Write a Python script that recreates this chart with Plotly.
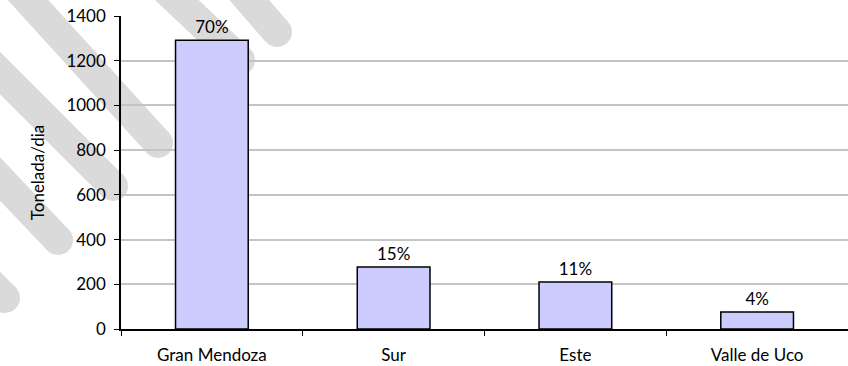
import plotly.graph_objects as go

# Residuos generados por región (tonelada/día)
regiones = ["Gran Mendoza", "Sur", "Este", "Valle de Uco"]
toneladas = [1292, 277, 210, 76]
y_ticks = [0, 200, 400, 600, 800, 1000, 1200, 1400]

total = sum(toneladas)
porcentajes = [f"{round(v / total * 100)}%" for v in toneladas]

W, H = 848, 366
ML, MR, MT, MB = 121, 0, 16, 37
PW, PH = W - ML - MR, H - MT - MB
FONT = "Lato"
FS = 17


def px_to_paper(x, y):
    return (x - ML) / PW, 1 - (y - MT) / PH


# Diagonal grey bands in the background: (cap centre x, cap centre y, slope dy/dx)
band_caps = [(277, 32, 1.15), (240, 60, 0.95), (158, 143, 1.1),
             (113, 186, 1.0), (58, 240, 1.05), (5, 298, 1.0)]
band_w = 30
band_col = "#dadada"

shapes = []
for cx, cy, k in band_caps:
    d = 400
    x0, y0 = px_to_paper(cx - d, cy - d * k)
    x1, y1 = px_to_paper(cx, cy)
    shapes.append(dict(type="line", xref="paper", yref="paper",
                       x0=x0, y0=y0, x1=x1, y1=y1,
                       line=dict(color=band_col, width=band_w), layer="below"))
    r = band_w / 2
    a0, b0 = px_to_paper(cx - r, cy + r)
    a1, b1 = px_to_paper(cx + r, cy - r)
    shapes.append(dict(type="circle", xref="paper", yref="paper",
                       x0=a0, y0=b0, x1=a1, y1=b1,
                       fillcolor=band_col, line=dict(width=0), layer="below"))

fig = go.Figure(go.Bar(
    x=regiones,
    y=toneladas,
    text=porcentajes,
    textposition="outside",
    textfont=dict(family=FONT, size=FS, color="black"),
    cliponaxis=False,
    marker=dict(color="#ccccff", line=dict(color="black", width=1.5)),
))

fig.update_layout(
    width=W, height=H,
    margin=dict(l=ML, r=MR, t=MT, b=MB),
    paper_bgcolor="white",
    plot_bgcolor="rgba(0,0,0,0)",
    bargap=0.6,
    showlegend=False,
    font=dict(family=FONT, size=FS, color="black"),
    shapes=shapes,
)

fig.update_xaxes(
    showline=True, linecolor="black", linewidth=1.5,
    ticks="outside", tickson="boundaries", ticklen=5, tickcolor="black",
    tickfont=dict(family=FONT, size=FS),
    ticklabelstandoff=10,
    showgrid=False,
)

fig.update_yaxes(
    range=[0, 1400],
    tickvals=y_ticks,
    showline=True, linecolor="black", linewidth=1.5,
    ticks="outside", ticklen=5, tickcolor="black",
    tickfont=dict(family=FONT, size=FS),
    ticklabelstandoff=5,
    showgrid=True, gridcolor="#c4c4c4", gridwidth=1.5,
    zeroline=False,
    title=dict(text="Tonelada/dia", font=dict(family=FONT, size=FS), standoff=17),
)

fig.write_html("out.html")
